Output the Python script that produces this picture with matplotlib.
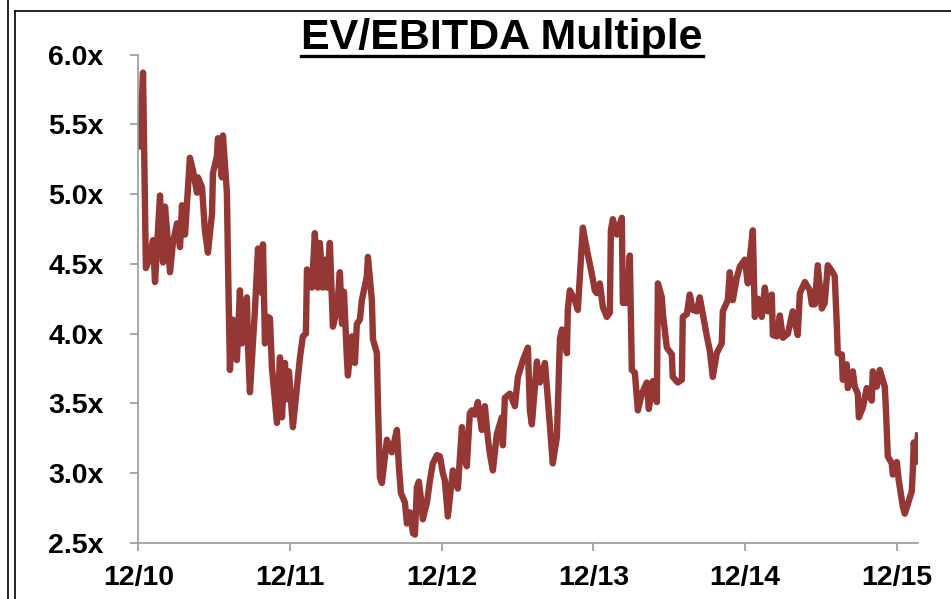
import matplotlib
matplotlib.use('Agg')
import matplotlib.pyplot as plt
from matplotlib.lines import Line2D

# Time axis: years since 12/10, multiple
years = [0.000, 0.010, 0.030, 0.049, 0.076, 0.096, 0.109, 0.142, 0.162, 0.175,
         0.188, 0.208, 0.227, 0.254, 0.274, 0.287, 0.307, 0.339, 0.359, 0.386,
         0.392, 0.419, 0.438, 0.458, 0.485, 0.491, 0.517, 0.524, 0.550, 0.557,
         0.583, 0.590, 0.603, 0.623, 0.649, 0.669, 0.682, 0.715, 0.722, 0.735,
         0.768, 0.788, 0.814, 0.821, 0.834, 0.854, 0.867, 0.880, 0.913, 0.933,
         0.946, 0.966, 0.979, 0.992, 1.018, 1.045, 1.065, 1.084, 1.104, 1.111,
         1.144, 1.163, 1.183, 1.196, 1.216, 1.229, 1.243, 1.262, 1.282, 1.309,
         1.328, 1.342, 1.355, 1.374, 1.381, 1.407, 1.427, 1.440, 1.460, 1.473,
         1.506, 1.513, 1.539, 1.546, 1.572, 1.579, 1.592, 1.605, 1.638, 1.671,
         1.704, 1.717, 1.730, 1.757, 1.770, 1.790, 1.810, 1.823, 1.836, 1.849,
         1.862, 1.875, 1.902, 1.922, 1.941, 1.968, 1.988, 2.007, 2.020, 2.040,
         2.073, 2.106, 2.133, 2.152, 2.165, 2.185, 2.198, 2.218, 2.238, 2.264,
         2.284, 2.304, 2.317, 2.337, 2.363, 2.396, 2.403, 2.416, 2.449, 2.482,
         2.502, 2.535, 2.568, 2.581, 2.594, 2.627, 2.647, 2.680, 2.700, 2.732,
         2.759, 2.779, 2.792, 2.825, 2.831, 2.844, 2.877, 2.897, 2.930, 2.957,
         2.989, 3.009, 3.022, 3.042, 3.062, 3.088, 3.108, 3.115, 3.128, 3.154,
         3.187, 3.194, 3.220, 3.240, 3.253, 3.273, 3.293, 3.319, 3.352, 3.365,
         3.392, 3.418, 3.425, 3.451, 3.458, 3.484, 3.517, 3.523, 3.556, 3.583,
         3.589, 3.616, 3.635, 3.655, 3.682, 3.701, 3.721, 3.748, 3.767, 3.787,
         3.813, 3.846, 3.853, 3.886, 3.899, 3.919, 3.945, 3.965, 3.998, 4.018,
         4.031, 4.051, 4.064, 4.084, 4.110, 4.130, 4.150, 4.176, 4.183, 4.209,
         4.229, 4.249, 4.282, 4.314, 4.347, 4.361, 4.394, 4.427, 4.440, 4.460,
         4.479, 4.506, 4.525, 4.545, 4.572, 4.591, 4.605, 4.611, 4.638, 4.644,
         4.670, 4.677, 4.710, 4.723, 4.743, 4.750, 4.776, 4.802, 4.835, 4.842,
         4.868, 4.888, 4.921, 4.928, 4.941, 4.967, 4.974, 5.000, 5.013, 5.040,
         5.053, 5.073, 5.099, 5.106, 5.112, 5.125, 5.139]

multiple = [5.53, 5.34, 5.87, 4.47, 4.55, 4.67, 4.37, 4.99, 4.51, 4.91,
            4.74, 4.44, 4.65, 4.79, 4.62, 4.92, 4.71, 5.26, 5.17, 5.01,
            5.12, 5.05, 4.74, 4.58, 4.86, 5.15, 5.27, 5.40, 5.12, 5.42,
            5.01, 4.53, 3.74, 4.10, 3.81, 4.31, 3.93, 4.26, 3.91, 3.58,
            4.17, 4.61, 4.29, 4.64, 3.93, 4.12, 4.11, 3.76, 3.36, 3.83,
            3.40, 3.79, 3.53, 3.73, 3.33, 3.62, 3.83, 3.98, 4.00, 4.46,
            4.33, 4.72, 4.33, 4.65, 4.33, 4.53, 4.33, 4.65, 4.05, 4.17,
            4.44, 4.07, 4.30, 3.83, 3.70, 3.98, 3.79, 4.07, 4.10, 4.24,
            4.41, 4.55, 4.24, 3.96, 3.86, 3.50, 2.97, 2.93, 3.24, 3.15,
            3.31, 3.05, 2.86, 2.79, 2.64, 2.72, 2.57, 2.56, 2.90, 2.94,
            2.82, 2.67, 2.79, 2.95, 3.07, 3.13, 3.12, 3.00, 2.95, 2.69,
            3.02, 2.89, 3.33, 3.10, 3.05, 3.43, 3.45, 3.42, 3.51, 3.31,
            3.48, 3.25, 3.14, 3.02, 3.28, 3.40, 3.20, 3.54, 3.57, 3.48,
            3.69, 3.81, 3.90, 3.45, 3.35, 3.80, 3.65, 3.79, 3.52, 3.07,
            3.26, 3.96, 4.03, 3.86, 4.17, 4.31, 4.24, 4.17, 4.76, 4.60,
            4.43, 4.31, 4.29, 4.36, 4.19, 4.12, 4.15, 4.74, 4.82, 4.71,
            4.83, 4.22, 4.22, 4.56, 3.74, 3.72, 3.45, 3.57, 3.65, 3.46,
            3.66, 3.51, 4.36, 4.26, 4.14, 3.90, 3.85, 3.69, 3.65, 3.67,
            4.12, 4.14, 4.28, 4.17, 4.16, 4.26, 4.14, 3.98, 3.88, 3.69,
            3.86, 3.93, 4.16, 4.24, 4.44, 4.24, 4.40, 4.48, 4.53, 4.36,
            4.54, 4.74, 4.12, 4.25, 4.12, 4.33, 4.16, 4.28, 3.99, 3.98,
            4.13, 3.97, 4.00, 4.16, 3.99, 4.29, 4.37, 4.31, 4.21, 4.21,
            4.49, 4.18, 4.22, 4.49, 4.45, 4.41, 4.05, 3.86, 3.85, 3.67,
            3.78, 3.61, 3.73, 3.62, 3.57, 3.40, 3.47, 3.61, 3.52, 3.73,
            3.62, 3.74, 3.62, 3.47, 3.12, 3.07, 2.99, 3.08, 2.95, 2.76,
            2.71, 2.78, 2.87, 3.02, 3.22, 3.08, 3.27]

x_ticks = [0, 1, 2, 3, 4, 5]
x_labels = ['12/10', '12/11', '12/12', '12/13', '12/14', '12/15']
y_ticks = [2.5, 3.0, 3.5, 4.0, 4.5, 5.0, 5.5, 6.0]
y_labels = ['2.5x', '3.0x', '3.5x', '4.0x', '4.5x', '5.0x', '5.5x', '6.0x']

plt.rcParams['font.family'] = ['Liberation Sans', 'DejaVu Sans']
plt.rcParams['font.weight'] = 'bold'

fig = plt.figure(figsize=(9.51, 5.99), dpi=100)
ax = fig.add_axes([0.1456, 0.0935, 0.8197, 0.8155])

ax.plot(years, multiple, color='#953735', linewidth=4.6, solid_joinstyle='round')

ax.set_xlim(0, 5.14)
ax.set_ylim(2.5, 6.0)
ax.set_xticks(x_ticks)
ax.set_xticklabels(x_labels)
ax.set_yticks(y_ticks)
ax.set_yticklabels(y_labels)

for side in ['top', 'right']:
    ax.spines[side].set_visible(False)
for side in ['left', 'bottom']:
    ax.spines[side].set_color('#999999')
    ax.spines[side].set_linewidth(1.2)

ax.tick_params(axis='both', colors='#999999', length=6, width=1.2, direction='out')
ax.tick_params(axis='y', labelcolor='black', labelsize=20.5, pad=19)
ax.tick_params(axis='x', labelcolor='black', labelsize=20.5, pad=10)
for lbl in ax.get_xticklabels() + ax.get_yticklabels():
    lbl.set_fontweight('bold')

# Title with underline
title = fig.text(502 / 951, 1 - 49 / 599, 'EV/EBITDA Multiple', ha='center', va='baseline',
                 fontsize=31, fontweight='bold')
fig.canvas.draw()
bb = title.get_window_extent()
W, H = fig.bbox.width, fig.bbox.height
uy = (bb.y0 + 2) / H
fig.add_artist(Line2D([bb.x0 / W, bb.x1 / W], [uy, uy], color='black', linewidth=2.4,
                      transform=fig.transFigure))

# Frame lines around the panel
fig.add_artist(Line2D([7.5 / 951, 7.5 / 951], [0, 1], color='black', linewidth=1.2,
                      transform=fig.transFigure))
fig.add_artist(Line2D([15 / 951, 15 / 951], [0, 1 - 11 / 599], color='black', linewidth=1.2,
                      transform=fig.transFigure))
fig.add_artist(Line2D([15 / 951, 1], [1 - 11 / 599, 1 - 11 / 599], color='black', linewidth=1.2,
                      transform=fig.transFigure))

fig.savefig('out.png', dpi=100)
